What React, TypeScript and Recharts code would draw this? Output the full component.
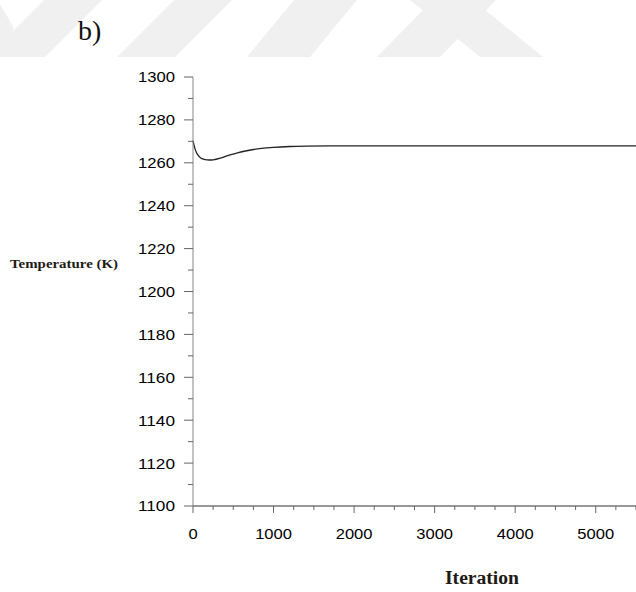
import React from "react";
import { LineChart, Line, XAxis, YAxis, Label } from "recharts";

// iteration count vs. temperature (K)
const iterations = [
  0, 25, 50, 75, 100, 150, 200, 250, 350, 450, 550, 650, 750, 850, 1000, 1200,
  1400, 1700, 2500, 3500, 4500, 5500,
];
const temperatures = [
  1270.3, 1266.5, 1264.3, 1263.0, 1262.1, 1261.5, 1261.3, 1261.4, 1262.3,
  1263.6, 1264.6, 1265.5, 1266.2, 1266.7, 1267.2, 1267.6, 1267.8, 1267.9,
  1267.9, 1267.9, 1267.9, 1267.9,
];

const xTicks = [
  0, 250, 500, 750, 1000, 1250, 1500, 1750, 2000, 2250, 2500, 2750, 3000, 3250,
  3500, 3750, 4000, 4250, 4500, 4750, 5000, 5250, 5500,
];
const xLabelled = [0, 1000, 2000, 3000, 4000, 5000];
const yTicks = [
  1100, 1110, 1120, 1130, 1140, 1150, 1160, 1170, 1180, 1190, 1200, 1210, 1220,
  1230, 1240, 1250, 1260, 1270, 1280, 1290, 1300,
];
const yLabelled = [1100, 1120, 1140, 1160, 1180, 1200, 1220, 1240, 1260, 1280, 1300];

const data = iterations.map((it, i) => ({ it, temp: temperatures[i] }));

const tickFont = '"Liberation Sans", Arial, sans-serif';
const titleFont = '"Liberation Serif", "Times New Roman", serif';

function YTick({ x, y, payload }: any) {
  const major = yLabelled.includes(payload.value);
  return (
    <g>
      <line x1={x - (major ? 9 : 5)} x2={x} y1={y} y2={y} stroke="#666" />
      {major && (
        <text
          x={x - 18}
          y={y}
          dy="0.36em"
          textAnchor="end"
          fontFamily={tickFont}
          fontSize={15}
          fill="#000"
          textLength={37}
          lengthAdjust="spacingAndGlyphs"
        >
          {payload.value}
        </text>
      )}
    </g>
  );
}

function XTick({ x, y, payload }: any) {
  const major = xLabelled.includes(payload.value);
  const s = String(payload.value);
  return (
    <g>
      <line x1={x} x2={x} y1={y} y2={y + (major ? 7 : 4)} stroke="#666" />
      {major && (
        <text
          x={x}
          y={y + 33}
          textAnchor="middle"
          fontFamily={tickFont}
          fontSize={15}
          fill="#000"
          textLength={s.length * 9.2}
          lengthAdjust="spacingAndGlyphs"
        >
          {s}
        </text>
      )}
    </g>
  );
}

function Watermark() {
  return (
    <svg
      width={636}
      height={57}
      style={{ position: "absolute", left: 0, top: 0 }}
    >
      <g fill="#f0f0f0">
        <polygon points="0,4 14,28 0,52" />
        <polygon points="-13,57 45,57 102,0 44,0" />
        <polygon points="117,57 175,57 232,0 174,0" />
        <polygon points="247,57 310,57 357,0 294,0" />
        <polygon points="377,57 440,57 496,0 433,0" />
        <polygon points="410,0 473,0 543,57 480,57" />
      </g>
      <text x={78} y={40} fontFamily={titleFont} fontSize={28} fill="#111">
        b)
      </text>
    </svg>
  );
}

export default function App() {
  return (
    <div
      style={{
        position: "absolute",
        left: 0,
        top: 0,
        width: 636,
        height: 592,
        background: "#fff",
      }}
    >
      <Watermark />
      <div style={{ position: "absolute", left: 0, top: 0 }}>
        <LineChart
          width={636}
          height={592}
          data={data}
          margin={{ top: 77, right: 0, bottom: 0, left: 0 }}
        >
          <XAxis
            dataKey="it"
            type="number"
            domain={[0, 5500]}
            ticks={xTicks}
            interval={0}
            height={86}
            axisLine={{ stroke: "#333" }}
            tickLine={false}
            tickSize={0}
            tickMargin={0}
            tick={<XTick />}
          >
            <Label
              content={() => (
                <text
                  x={482}
                  y={584}
                  textAnchor="middle"
                  fontFamily={titleFont}
                  fontWeight="bold"
                  fontSize={18}
                  fill="#1e1a14"
                  textLength={74}
                  lengthAdjust="spacingAndGlyphs"
                >
                  Iteration
                </text>
              )}
            />
          </XAxis>
          <YAxis
            type="number"
            domain={[1100, 1300]}
            ticks={yTicks}
            interval={0}
            width={193}
            axisLine={{ stroke: "#888" }}
            tickLine={false}
            tickSize={0}
            tickMargin={0}
            tick={<YTick />}
          >
            <Label
              content={() => (
                <text
                  x={10}
                  y={268}
                  fontFamily={titleFont}
                  fontWeight="bold"
                  fontSize={13}
                  fill="#1e1a14"
                  textLength={108}
                  lengthAdjust="spacingAndGlyphs"
                >
                  Temperature (K)
                </text>
              )}
            />
          </YAxis>
          <Line
            dataKey="temp"
            type="monotone"
            stroke="#222"
            strokeWidth={1.3}
            dot={false}
            isAnimationActive={false}
          />
        </LineChart>
      </div>
    </div>
  );
}
